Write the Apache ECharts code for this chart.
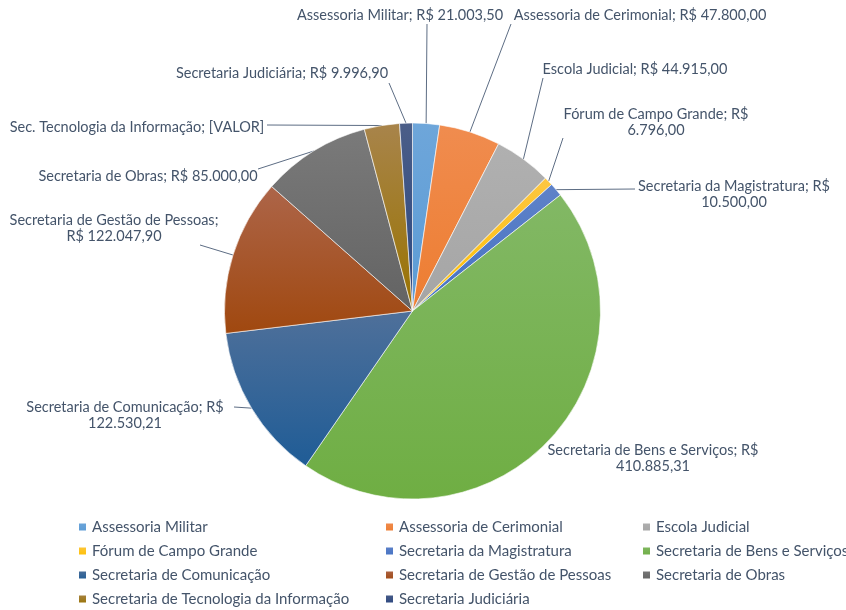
<!DOCTYPE html>
<html><head><meta charset="utf-8">
<script src="https://cdn.jsdelivr.net/npm/echarts@6/dist/echarts.min.js"></script>
<style>html,body{margin:0;padding:0;background:#fff}#c{width:846px;height:610px}</style>
</head><body><div id="c"></div>
<script>
// ---------- DATA ----------
const categories = [
  'Assessoria Militar', 'Assessoria de Cerimonial', 'Escola Judicial', 'Fórum de Campo Grande',
  'Secretaria da Magistratura', 'Secretaria de Bens e Serviços', 'Secretaria de Comunicação',
  'Secretaria de Gestão de Pessoas', 'Secretaria de Obras', 'Secretaria de Tecnologia da Informação',
  'Secretaria Judiciária'
];
const labelNames = [
  'Assessoria Militar', 'Assessoria de Cerimonial', 'Escola Judicial', 'Fórum de Campo Grande',
  'Secretaria da Magistratura', 'Secretaria de Bens e Serviços', 'Secretaria de Comunicação',
  'Secretaria de Gestão de Pessoas', 'Secretaria de Obras', 'Sec. Tecnologia da Informação',
  'Secretaria Judiciária'
];
const values = [21003.50, 47800.00, 44915.00, 6796.00, 10500.00, 410885.31, 122530.21, 122047.90, 85000.00, 27500.00, 9996.90];
const valueHidden = [false, false, false, false, false, false, false, false, false, true, false];
const hiddenText = '[VALOR]';

// ---------- STYLE / LAYOUT ----------
const topColors = ['#6ea6da', '#f08c4f', '#b0b0b0', '#fcc642', '#5f82c8', '#82b865', '#4f709a', '#ad6549', '#7a7a7a', '#a8844b', '#4b5e88'];
const botColors = ['#5b9bd5', '#ed7d31', '#a5a5a5', '#ffc000', '#4472c4', '#6fae43', '#1f5c96', '#a0480f', '#636363', '#997300', '#2a4680'];
const labelWrap = ['none', 'none', 'none', 'afterRS', 'afterRS', 'afterRS', 'afterRS', 'afterSemi', 'none', 'none', 'none'];
const labelPos = [
  {x: 400, y: 15, line: [427, 24]},
  {x: 640, y: 15, line: [511, 24]},
  {x: 635, y: 69, line: [543, 78]},
  {x: 656, y: 122, line: [563, 138]},
  {x: 734, y: 194, line: [635, 189]},
  {x: 653, y: 458, line: null},
  {x: 125, y: 415, line: [234, 407]},
  {x: 114, y: 228, line: [200, 245]},
  {x: 148, y: 176, line: [258, 169]},
  {x: 137, y: 127, line: [267, 125]},
  {x: 282, y: 73, line: [389, 83]}
];
const legendCols = [
  {left: 77, idx: [0, 3, 6, 9]},
  {left: 384, idx: [1, 4, 7, 10]},
  {left: 641, idx: [2, 5, 8]}
];
const FONT = 'Lato';
const TXT = '#44546a';

function fmtBR(v) {
  const parts = v.toFixed(2).split('.');
  const ip = parts[0].replace(/\B(?=(\d{3})+(?!\d))/g, '.');
  return ip + ',' + parts[1];
}
function labelText(i) {
  const name = labelNames[i];
  const val = valueHidden[i] ? hiddenText : 'R$ ' + fmtBR(values[i]);
  if (valueHidden[i]) return name + '; ' + val;
  const w = labelWrap[i];
  if (w === 'afterRS') return name + '; R$\n' + fmtBR(values[i]);
  if (w === 'afterSemi') return name + ';\n' + val;
  return name + '; ' + val;
}

const seriesData = categories.map((c, i) => ({
  name: c,
  value: values[i],
  itemStyle: {
    color: {type: 'linear', x: 0, y: 0, x2: 0, y2: 1,
      colorStops: [{offset: 0, color: topColors[i]}, {offset: 1, color: botColors[i]}]}
  },
  label: {formatter: labelText(i)},
  labelLine: {show: labelPos[i].line !== null}
}));

const chart = echarts.init(document.getElementById('c'), null, {renderer: 'canvas'});
chart.setOption({
  animation: false,
  backgroundColor: '#ffffff',
  legend: legendCols.map(col => ({
    orient: 'vertical',
    left: col.left,
    top: 519,
    padding: 0,
    height: 92,
    itemWidth: 9,
    itemHeight: 9,
    itemGap: 8,
    icon: 'rect',
    selectedMode: false,
    data: col.idx.map(i => categories[i]),
    textStyle: {fontFamily: FONT, fontSize: 15, color: TXT, lineHeight: 16}
  })),
  series: [{
    type: 'pie',
    center: [412.5, 311],
    radius: 188,
    startAngle: 90,
    clockwise: true,
    avoidLabelOverlap: false,
    data: seriesData,
    itemStyle: {borderColor: '#ffffff', borderWidth: 0.6},
    label: {
      show: true,
      position: 'outside',
      fontFamily: FONT,
      fontSize: 14.5,
      lineHeight: 16,
      color: TXT
    },
    labelLine: {show: true, length: 10, length2: 10, lineStyle: {color: '#5d6d84', width: 1}},
    emphasis: {disabled: true},
    labelLayout: function (p) {
      const L = labelPos[p.dataIndex];
      const out = {x: L.x, y: L.y, align: 'center', verticalAlign: 'middle'};
      const pts = p.labelLinePoints;
      if (pts && L.line) {
        const a = pts[0];
        out.labelLinePoints = [a, L.line, L.line];
      }
      return out;
    }
  }]
});
</script>
</body></html>
